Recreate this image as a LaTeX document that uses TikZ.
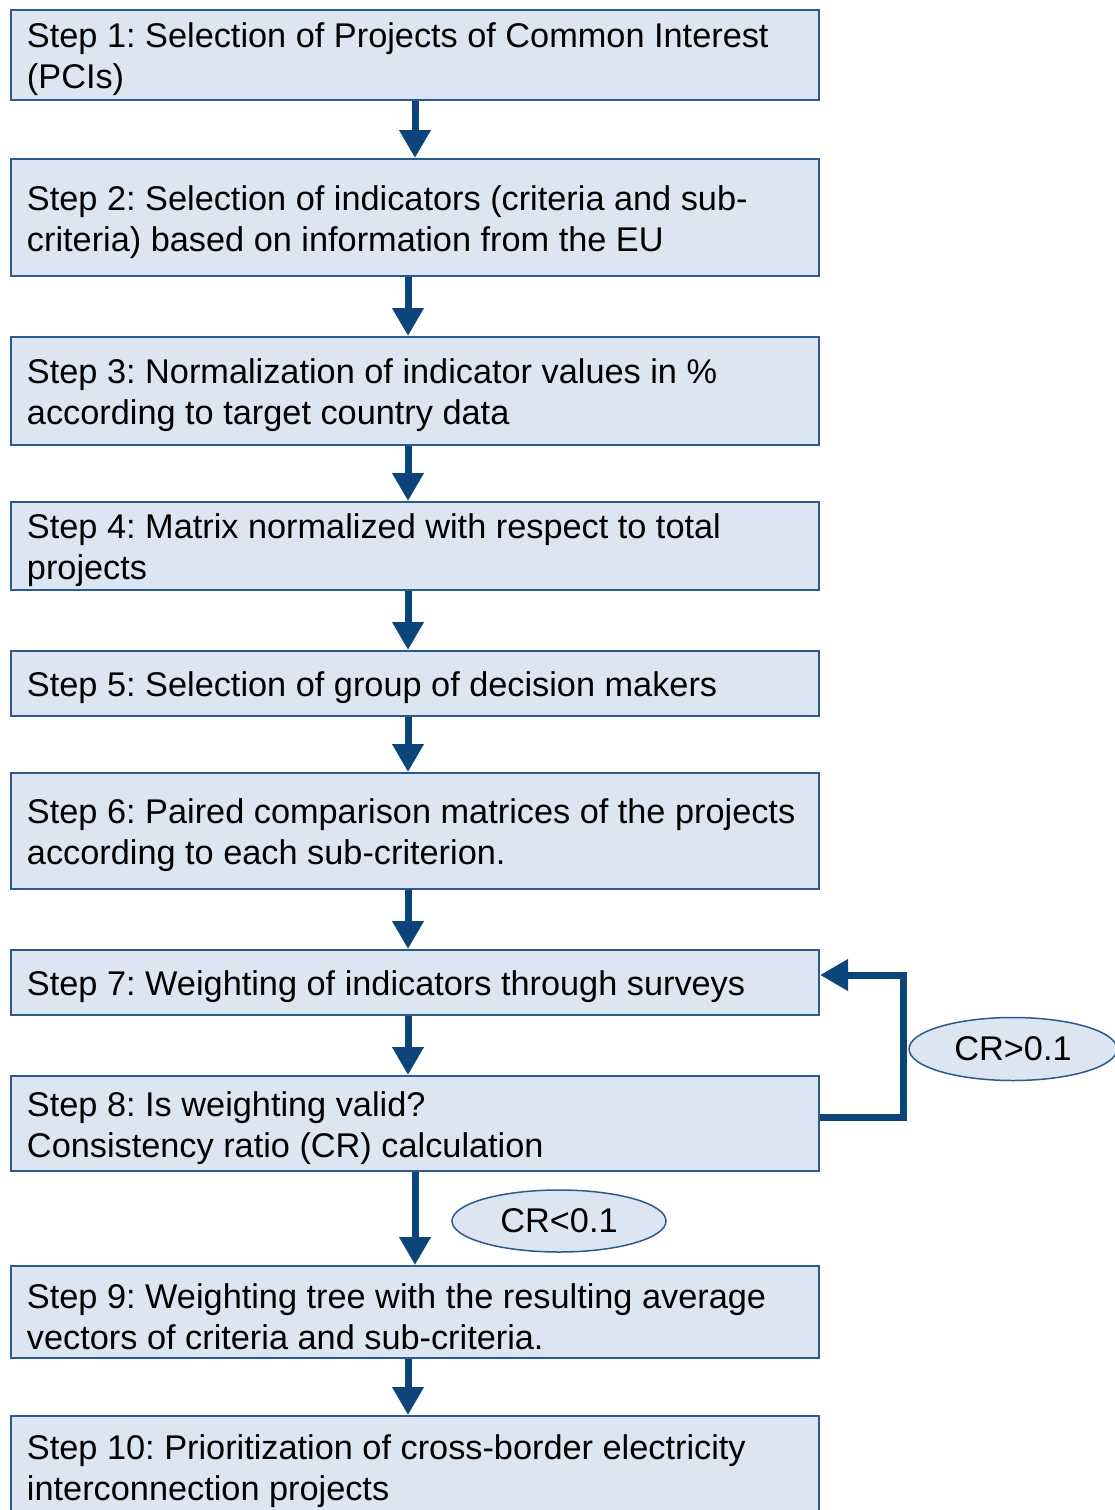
\documentclass[tikz,border=0pt]{standalone}
\usepackage{fontspec}
\setmainfont{Liberation Sans}
\usetikzlibrary{arrows.meta,shapes.geometric}
\definecolor{boxfill}{HTML}{DCE6F2}
\definecolor{boxline}{HTML}{2C5A8C}
\definecolor{arrcol}{HTML}{0D4479}
\hyphenpenalty=10000
\exhyphenpenalty=10000
\frenchspacing
\newcommand\steptext[1]{\raisebox{-4.5pt}[\height][\depth]{\parbox{776pt}{\raggedright #1}}}
\tikzset{
  stepbox/.style={draw=boxline, line width=2pt, fill=boxfill, rectangle,
    minimum width=808pt, inner xsep=16pt, inner ysep=0pt,
    font=\fontsize{34.3}{41}\selectfont},
  crlabel/.style={draw=boxline, line width=1.5pt, fill=boxfill, ellipse,
    inner sep=0pt, font=\fontsize{34.3}{41}\selectfont},
  arr/.style={draw=arrcol, line width=7pt, -{Triangle[width=30pt,length=28pt]}}
}
\begin{document}
\begin{tikzpicture}[x=1pt,y=-1pt]
\useasboundingbox (0,0) rectangle (1115,1510);
\clip (0,0) rectangle (1115,1510);
\fill[white] (0,0) rectangle (1115,1510);
\node[stepbox, minimum height=90pt] (b1) at (415,55) {\steptext{Step 1: Selection of Projects of Common Interest\\(PCIs)}};
\node[stepbox, minimum height=117pt] (b2) at (415,217.5) {\steptext{Step 2: Selection of indicators (criteria and sub-\\criteria) based on information from the EU}};
\node[stepbox, minimum height=108pt] (b3) at (415,391) {\steptext{Step 3: Normalization of indicator values in \%\\according to target country data}};
\node[stepbox, minimum height=88pt] (b4) at (415,546) {\steptext{Step 4: Matrix normalized with respect to total\\projects}};
\node[stepbox, minimum height=65pt] (b5) at (415,683.5) {\steptext{Step 5: Selection of group of decision makers}};
\node[stepbox, minimum height=116pt] (b6) at (415,831) {\steptext{Step 6: Paired comparison matrices of the projects\\according to each sub-criterion.}};
\node[stepbox, minimum height=65pt] (b7) at (415,982.5) {\steptext{Step 7: Weighting of indicators through surveys}};
\node[stepbox, minimum height=95pt] (b8) at (415,1123.5) {\steptext{Step 8: Is weighting valid?\\Consistency ratio (CR) calculation}};
\node[stepbox, minimum height=92pt] (b9) at (415,1312) {\steptext{Step 9: Weighting tree with the resulting average\\vectors of criteria and sub-criteria.}};
\node[stepbox, minimum height=102pt] (b10) at (415,1467) {\steptext{Step 10: Prioritization of cross-border electricity\\interconnection projects}};
\node[crlabel, minimum width=208pt, minimum height=63pt] (gt) at (1013,1049) {CR>0.1};
\node[crlabel, minimum width=214pt, minimum height=62pt] (lt) at (559,1221) {CR<0.1};
\draw[arr] (b1.south) -- (b2.north);
\draw[arr] ([xshift=-7pt]b2.south) -- ([xshift=-7pt]b3.north);
\draw[arr] ([xshift=-7pt]b3.south) -- ([xshift=-7pt]b4.north);
\draw[arr] ([xshift=-7pt]b4.south) -- ([xshift=-7pt]b5.north);
\draw[arr] ([xshift=-7pt]b5.south) -- ([xshift=-7pt]b6.north);
\draw[arr] ([xshift=-7pt]b6.south) -- ([xshift=-7pt]b7.north);
\draw[arr] ([xshift=-7pt]b7.south) -- ([xshift=-7pt]b8.north);
\draw[arr] (b8.south) -- (b9.north);
\draw[arr] ([xshift=-7pt]b9.south) -- ([xshift=-7pt]b10.north);
\draw[arr] ([yshift=6.5pt]b8.east) -- ++(83,0) |- ([yshift=7.5pt]b7.east);
\end{tikzpicture}
\end{document}
